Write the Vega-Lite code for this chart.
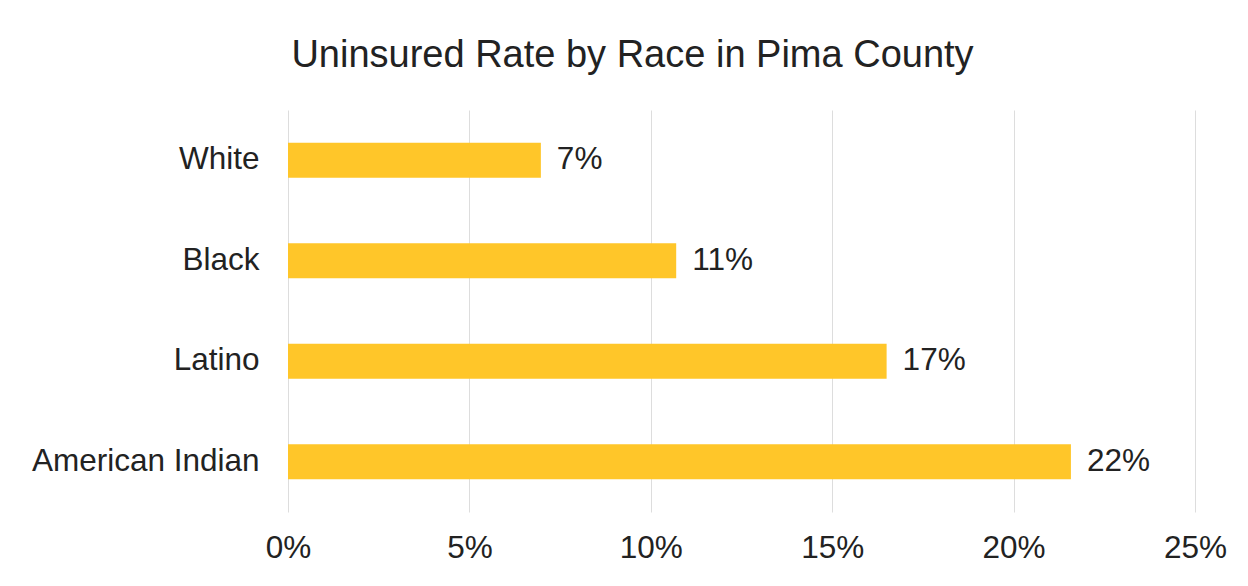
{
  "$schema": "https://vega.github.io/schema/vega-lite/v6.json",
  "autosize": "none",
  "width": 907,
  "height": 402,
  "padding": {"left": 288, "top": 110, "right": 53, "bottom": 74},
  "background": "white",
  "title": {
    "text": "Uninsured Rate by Race in Pima County",
    "font": "Arial",
    "fontSize": 38,
    "fontWeight": "normal",
    "color": "#222222",
    "anchor": "middle",
    "dx": -109,
    "offset": 35
  },
  "data": {
    "values": [
      {"race": "White", "rate": 0.0697},
      {"race": "Black", "rate": 0.107},
      {"race": "Latino", "rate": 0.165},
      {"race": "American Indian", "rate": 0.2158}
    ]
  },
  "encoding": {
    "y": {
      "field": "race",
      "type": "nominal",
      "sort": null,
      "scale": {"paddingInner": 0.65, "paddingOuter": 0.325},
      "axis": {
        "title": null,
        "domain": false,
        "ticks": false,
        "labelFont": "Arial",
        "labelFontSize": 31.5,
        "labelColor": "#222222",
        "labelPadding": 29,
        "labelLimit": 400
      }
    },
    "x": {
      "field": "rate",
      "type": "quantitative",
      "scale": {"domain": [0, 0.25]},
      "axis": {
        "title": null,
        "format": ".0%",
        "values": [0, 0.05, 0.1, 0.15, 0.2, 0.25],
        "domain": false,
        "ticks": false,
        "labelFlush": false,
        "gridColor": "#dddddd",
        "labelFont": "Arial",
        "labelFontSize": 31.5,
        "labelColor": "#222222",
        "labelPadding": 20
      }
    }
  },
  "layer": [
    {"mark": {"type": "bar", "color": "#FFC629"}},
    {
      "mark": {
        "type": "text",
        "align": "left",
        "baseline": "middle",
        "dx": 16,
        "font": "Arial",
        "fontSize": 31.5,
        "color": "#222222"
      },
      "encoding": {"text": {"field": "rate", "type": "quantitative", "format": ".0%"}}
    }
  ],
  "config": {"view": {"stroke": null}}
}
